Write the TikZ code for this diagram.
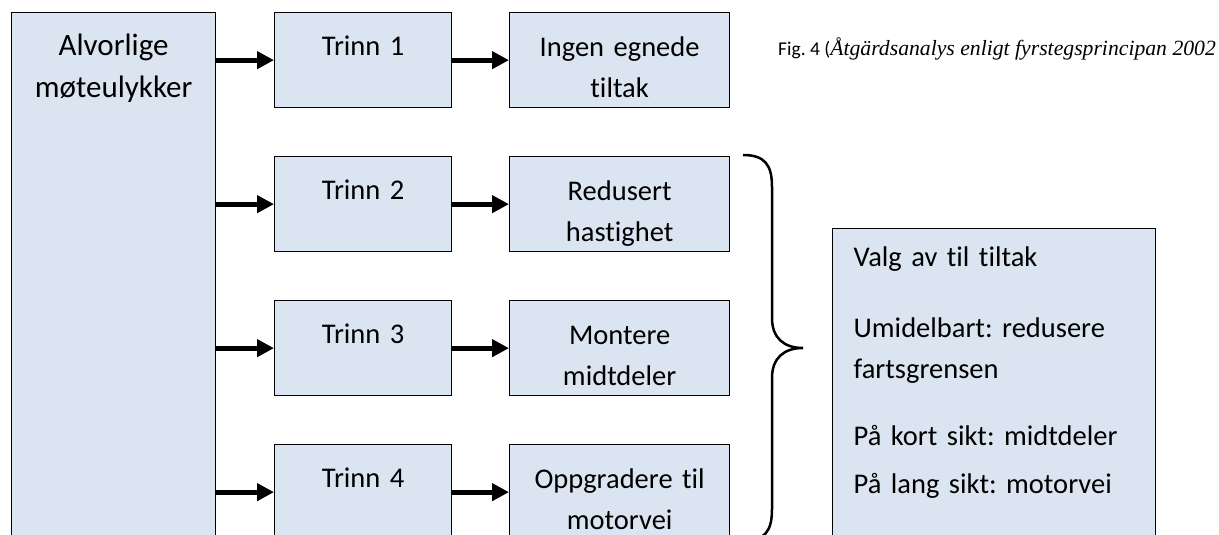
\documentclass[tikz,border=0pt]{standalone}
\usepackage{fontspec}
\setmainfont{Carlito}[Ligatures=NoCommon]
\newfontfamily\timesit{Liberation Serif}
\usepackage{tikz}
\usetikzlibrary{arrows.meta}
\definecolor{boxfill}{RGB}{219,229,241}
\frenchspacing

\tikzset{
  boks/.style={draw=black, line width=1.3pt, fill=boxfill, anchor=north west,
    inner xsep=0pt, inner ysep=0pt, align=center,
    font=\fontsize{28.5}{41}\selectfont},
  trinn/.style={boks, text width=177pt, text height=43pt, text depth=52pt},
  tiltak/.style={boks, text width=220pt, text height=44pt, text depth=51pt},
  pil/.style={line width=5pt, -{Triangle[length=17pt,width=17pt]}},
}

\begin{document}
\begin{tikzpicture}[x=1pt, y=-1pt]

    \useasboundingbox (0, 0) rectangle (1219, 535);

    % venstre boks
    \node[boks, text width=204pt, text height=43pt, text depth=520pt,
          font=\fontsize{31}{42}\selectfont] (ulykker) at (11, 12)
          {Alvorlige\\møteulykker};

    % trinn
    \node[trinn] (t1) at (274, 12)  {Trinn 1};
    \node[trinn] (t2) at (274, 156) {Trinn 2};
    \node[trinn] (t3) at (274, 300) {Trinn 3};
    \node[trinn] (t4) at (274, 444) {Trinn 4};

    % tiltak
    \node[tiltak] (r1) at (509, 12)  {Ingen egnede\\tiltak};
    \node[tiltak] (r2) at (509, 156) {Redusert\\hastighet};
    \node[tiltak] (r3) at (509, 300) {Montere\\midtdeler};
    \node[tiltak] (r4) at (509, 444) {Oppgradere til\\motorvei};

    % valg
    \node[boks, align=left, inner xsep=21pt, text width=281pt,
          text height=38pt, text depth=290pt] (valg) at (832, 228)
          {Valg av til tiltak\\[30pt]
           Umidelbart: redusere\\
           fartsgrensen\\[26pt]
           P\aa{} kort sikt: midtdeler\\[7pt]
           P\aa{} lang sikt: motorvei};

    \foreach \i in {1, 2, 3, 4} {
        \draw[pil] (ulykker.east |- t\i.west) -- (t\i.west);
        \draw[pil] (t\i) -- (r\i);
    }

    % klamme
    \draw[line width=2.5pt]
        (743, 155) .. controls (765, 155) and (772, 165) .. (772, 187)
        -- (772, 318)
        .. controls (772, 338) and (784, 348) .. (803, 348)
        .. controls (784, 348) and (772, 358) .. (772, 378)
        -- (772, 509)
        .. controls (772, 531) and (765, 541) .. (743, 541);

    \node[anchor=base west, inner sep=0pt, font=\fontsize{19.5}{24}\selectfont]
        (fig) at (778, 56)
        {Fig. 4 ({\timesit\itshape\fontsize{21.7}{24}\selectfont \AA tg\"ardsanalys enligt fyrstegsprincipan 2002}};

\end{tikzpicture}
\end{document}
